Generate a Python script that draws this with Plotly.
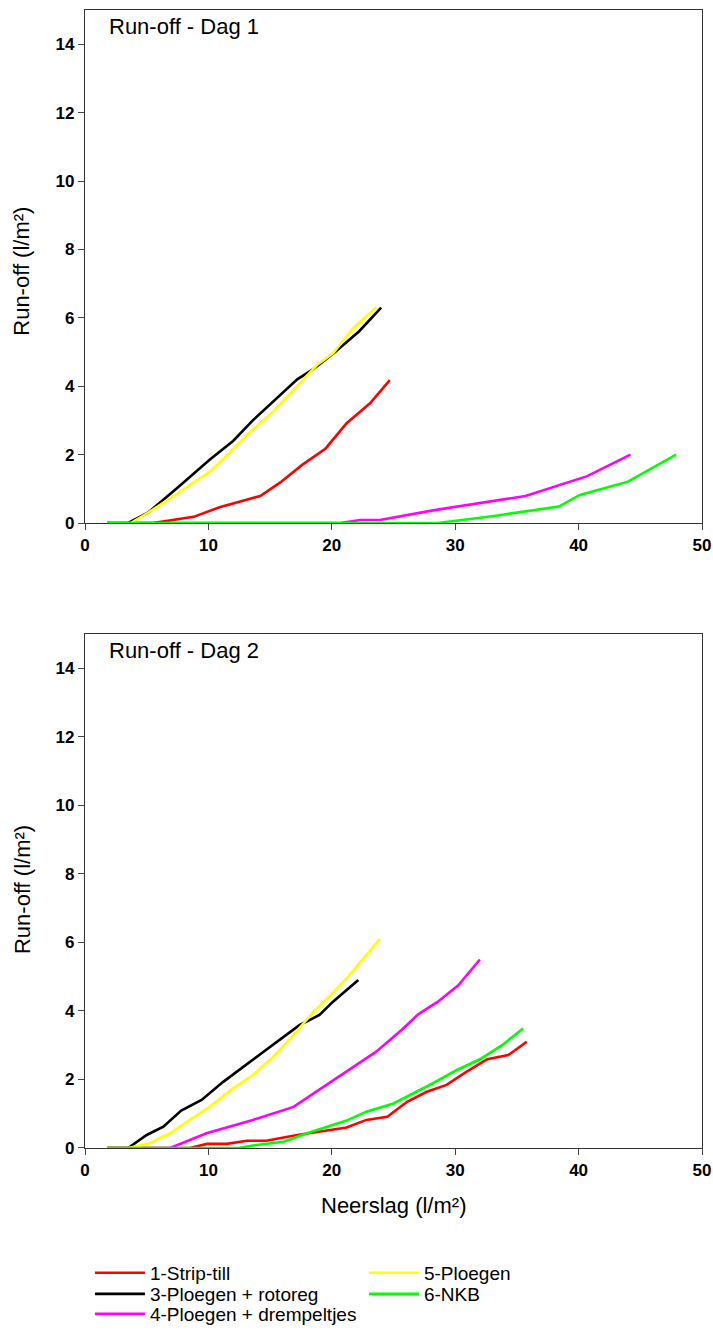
import plotly.graph_objects as go

# ---------------- data ----------------
names = ["1-Strip-till", "3-Ploegen + rotoreg", "4-Ploegen + drempeltjes", "5-Ploegen", "6-NKB"]
colors = ["#FF0000", "#000000", "#FF00FF", "#FFFF00", "#00FF00"]
# which legend row each series sits in (reference legend: 2 columns, 3 rows)
legend_rows = ["legend", "legend2", "legend3", "legend", "legend2"]

# Dag 1
red1_x = [1.8, 5.5, 8.8, 10.9, 14.2, 15.8, 17.6, 19.5, 21.2, 23.1, 24.7]
red1_y = [0, 0, 0.18, 0.46, 0.79, 1.18, 1.7, 2.18, 2.92, 3.5, 4.18]
black1_x = [1.8, 3.5, 5.1, 7.4, 10.1, 12.0, 13.6, 15.4, 17.2, 18.5, 20.1, 22.2, 24.0]
black1_y = [0, 0, 0.3, 1.0, 1.85, 2.4, 3.0, 3.6, 4.2, 4.5, 4.95, 5.6, 6.3]
magenta1_x = [1.8, 20.7, 22.3, 23.9, 28.2, 32.0, 35.7, 40.7, 44.2]
magenta1_y = [0, 0, 0.09, 0.09, 0.37, 0.58, 0.79, 1.37, 2.0]
yellow1_x = [1.8, 3.7, 5.1, 6.9, 10.1, 11.8, 13.4, 15.1, 16.9, 18.8, 20.1, 21.7, 23.6]
yellow1_y = [0, 0, 0.3, 0.72, 1.5, 2.08, 2.67, 3.2, 3.89, 4.62, 4.96, 5.69, 6.3]
green1_x = [1.8, 28.6, 33.0, 38.4, 40.1, 44.0, 47.9]
green1_y = [0, 0, 0.2, 0.48, 0.82, 1.21, 2.0]

# Dag 2
red2_x = [1.8, 8.5, 9.9, 11.5, 13.1, 14.7, 17.2, 19.6, 21.2, 22.8, 24.5, 26.1, 27.7, 29.3, 30.9, 32.6, 34.3, 35.8]
red2_y = [0, 0, 0.12, 0.12, 0.21, 0.21, 0.38, 0.52, 0.6, 0.82, 0.91, 1.35, 1.64, 1.84, 2.22, 2.59, 2.71, 3.1]
black2_x = [1.8, 3.5, 5.0, 6.35, 7.8, 9.45, 11.2, 13.6, 14.7, 16.1, 17.4, 19.0, 20.1, 22.15]
black2_y = [0, 0, 0.38, 0.62, 1.09, 1.4, 1.93, 2.57, 2.86, 3.24, 3.59, 3.88, 4.27, 4.9]
magenta2_x = [1.8, 6.9, 9.85, 13.6, 16.9, 20.1, 23.6, 25.7, 27.0, 28.6, 30.25, 32.0]
magenta2_y = [0, 0, 0.43, 0.82, 1.2, 1.98, 2.81, 3.46, 3.9, 4.27, 4.75, 5.5]
yellow2_x = [1.8, 3.5, 5.1, 6.9, 8.5, 10.1, 12.0, 13.6, 15.25, 16.9, 18.5, 19.9, 21.2, 22.0, 23.9]
yellow2_y = [0, 0, 0.12, 0.43, 0.82, 1.2, 1.74, 2.13, 2.66, 3.3, 3.97, 4.46, 4.95, 5.29, 6.1]
green2_x = [1.8, 12.4, 13.9, 16.1, 18.0, 19.6, 21.2, 22.8, 25.0, 28.2, 30.1, 32.0, 33.8, 35.5]
green2_y = [0, 0, 0.09, 0.18, 0.43, 0.62, 0.8, 1.06, 1.3, 1.89, 2.27, 2.59, 3.0, 3.49]

dag1 = [(red1_x, red1_y), (black1_x, black1_y), (magenta1_x, magenta1_y), (yellow1_x, yellow1_y), (green1_x, green1_y)]
dag2 = [(red2_x, red2_y), (black2_x, black2_y), (magenta2_x, magenta2_y), (yellow2_x, yellow2_y), (green2_x, green2_y)]

x_ticks = [0, 10, 20, 30, 40, 50]
y_ticks = [0, 2, 4, 6, 8, 10, 12, 14]
panel_titles = ["Run-off - Dag 1", "Run-off - Dag 2"]
y_title = "Run-off (l/m²)"
x_title = "Neerslag (l/m²)"

FONT = "Arial, Liberation Sans, sans-serif"

fig = go.Figure()
for i, (xs, ys) in enumerate(dag1):
    fig.add_trace(go.Scatter(x=xs, y=ys, mode="lines", name=names[i],
                             line=dict(color=colors[i], width=2.6),
                             legend=legend_rows[i], xaxis="x", yaxis="y"))
for i, (xs, ys) in enumerate(dag2):
    fig.add_trace(go.Scatter(x=xs, y=ys, mode="lines", name=names[i],
                             line=dict(color=colors[i], width=2.6),
                             showlegend=False, xaxis="x2", yaxis="y2"))

axis_common = dict(showgrid=False, zeroline=False, showline=True, linecolor="#333",
                   linewidth=1.3, mirror=True, ticks="outside", ticklen=6, automargin=False,
                   tickcolor="#444", tickfont=dict(family=FONT, size=17, color="black", weight="bold"))

legend_common = dict(orientation="h", xanchor="left", yanchor="middle", x=0.008,
                     entrywidth=209, entrywidthmode="pixels", itemwidth=50,
                     font=dict(family=FONT, size=19, color="black"),
                     bgcolor="rgba(0,0,0,0)")

fig.update_layout(
    width=713, height=1330,
    margin=dict(l=85, r=11, t=10, b=182, autoexpand=False),
    paper_bgcolor="white", plot_bgcolor="white",
    font=dict(family=FONT, color="black"),
    xaxis=dict(domain=[0, 1], anchor="y", range=[0, 50], tickvals=x_ticks, **axis_common),
    yaxis=dict(domain=[0.5492, 1], anchor="x", range=[0, 15], tickvals=y_ticks, **axis_common),
    xaxis2=dict(domain=[0, 1], anchor="y2", range=[0, 50], tickvals=x_ticks, **axis_common),
    yaxis2=dict(domain=[0, 0.4517], anchor="x2", range=[0, 15], tickvals=y_ticks, **axis_common),
    legend=dict(y=-0.1098, **legend_common),
    legend2=dict(y=-0.1283, **legend_common),
    legend3=dict(y=-0.1459, **legend_common),
    showlegend=True,
)

# panel titles inside the plot boxes
for k, t in enumerate(panel_titles):
    suffix = "" if k == 0 else "2"
    fig.add_annotation(text=t, xref=f"x{suffix} domain", yref=f"y{suffix} domain",
                       x=0.036, y=0.967, xanchor="left", yanchor="middle", showarrow=False,
                       font=dict(family=FONT, size=22, color="black"))

# axis titles
for ycen in [0.77, 0.2267]:
    fig.add_annotation(text=y_title, xref="paper", yref="paper", x=-0.1021, y=ycen,
                       xanchor="center", yanchor="middle", textangle=-90, showarrow=False,
                       font=dict(family=FONT, size=22, color="black"))
fig.add_annotation(text=x_title, xref="paper", yref="paper", x=0.5, y=-0.0501,
                   xanchor="center", yanchor="middle", showarrow=False,
                   font=dict(family=FONT, size=22, color="black"))

fig.write_html("out.html", config={"displayModeBar": False},
               post_script="document.body.style.margin='0';document.body.style.overflow='hidden';")
